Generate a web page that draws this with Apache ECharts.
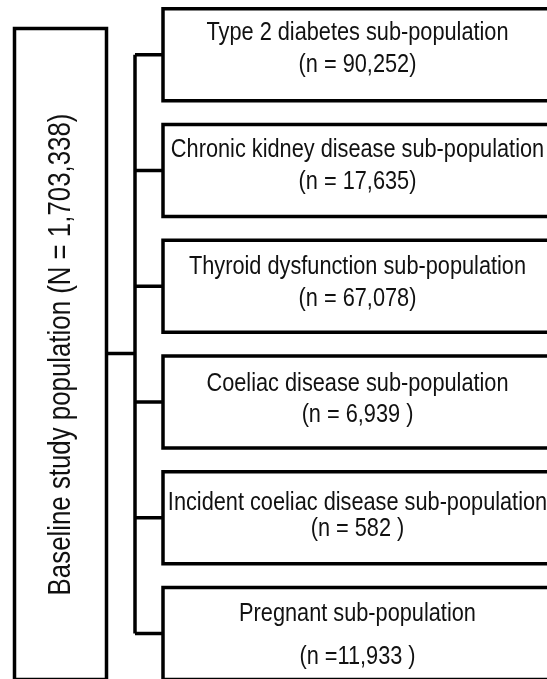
<!DOCTYPE html>
<html>
<head>
<meta charset="utf-8">
<script src="https://cdn.jsdelivr.net/npm/echarts@6/dist/echarts.min.js"></script>
<style>
html,body{margin:0;padding:0;background:#fff;}
#chart{width:547px;height:679px;}
</style>
</head>
<body>
<div id="chart"></div>
<script>
// ---- data ----
const mainLabel = 'Baseline study population (N = 1,703,338)';
const categories = [
  'Type 2 diabetes sub-population',
  'Chronic kidney disease sub-population',
  'Thyroid dysfunction sub-population',
  'Coeliac disease sub-population',
  'Incident coeliac disease sub-population',
  'Pregnant sub-population'
];
const counts = [90252, 17635, 67078, 6939, 582, 11933];
const countLabels = ['(n = 90,252)', '(n = 17,635)', '(n = 67,078)', '(n = 6,939 )', '(n = 582 )', '(n =11,933 )'];

// ---- chart ----
const FONT = '"Liberation Sans", Arial, sans-serif';
const SX = 0.82; // narrow face
const chart = echarts.init(document.getElementById('chart'), null, {renderer: 'canvas'});

const LW = 3.5;
const TRUNK_X = 135, BOX_X = 163, BOX_R = 552;
const LEFT_X0 = 14.5, LEFT_X1 = 106.5, LEFT_Y0 = 28.5, LEFT_Y1 = 679.5;
// text line offsets inside each box (px from box centre)
const LINE_OFF = [[-22, 9.5], [-21, 11], [-20, 12], [-18.5, 13], [-15, 11], [-20, 23]];

function renderBox(params, api) {
  const i = params.dataIndex;
  const c = api.coord([BOX_X, i]);
  const cy = c[1];
  const band = Math.abs(api.size([0, 1])[1]);
  const h = band * 0.795;
  const x0 = c[0];
  const x1 = api.coord([BOX_R, i])[0];
  const xt = api.coord([TRUNK_X, i])[0];
  const xm = (x0 + x1) / 2;
  const off = LINE_OFF[i];
  return {
    type: 'group',
    children: [
      {type: 'line', shape: {x1: xt, y1: cy, x2: x0, y2: cy}, style: {stroke: '#000', lineWidth: LW}},
      {type: 'rect', shape: {x: x0, y: cy - h / 2, width: x1 - x0, height: h},
        style: {fill: '#fff', stroke: '#000', lineWidth: LW}},
      {type: 'text', x: xm, y: cy + off[0], scaleX: SX, style: {text: categories[i], font: '26.5px ' + FONT,
        fill: '#111', align: 'center', verticalAlign: 'middle'}},
      {type: 'text', x: xm, y: cy + off[1], scaleX: SX, style: {text: countLabels[i], font: '26.5px ' + FONT,
        fill: '#111', align: 'center', verticalAlign: 'middle'}}
    ]
  };
}

function renderMain(params, api) {
  const top = api.coord([TRUNK_X, 0]);
  const bot = api.coord([TRUNK_X, categories.length - 1]);
  const lx0 = api.coord([LEFT_X0, 0])[0];
  const lx1 = api.coord([LEFT_X1, 0])[0];
  const midY = (LEFT_Y0 + LEFT_Y1) / 2 - 0.5;
  return {
    type: 'group',
    children: [
      {type: 'line', shape: {x1: top[0], y1: top[1], x2: bot[0], y2: bot[1]}, style: {stroke: '#000', lineWidth: LW}},
      {type: 'line', shape: {x1: lx1, y1: midY, x2: top[0], y2: midY}, style: {stroke: '#000', lineWidth: LW}},
      {type: 'rect', shape: {x: lx0, y: LEFT_Y0, width: lx1 - lx0, height: LEFT_Y1 - LEFT_Y0},
        style: {fill: '#fff', stroke: '#000', lineWidth: LW}},
      {type: 'text', x: (lx0 + lx1) / 2 + 0.5, y: midY + 1, rotation: Math.PI / 2, scaleX: SX,
        style: {text: mainLabel, font: '31.5px ' + FONT, fill: '#111', align: 'center', verticalAlign: 'middle'}}
    ]
  };
}

// y axis: index of sub-population, 115.75 px per step, first centre at 54.75 px
const PITCH = 115.75, FIRST = 54.75, H = 679;
const yMin = -FIRST / PITCH;
const yMax = yMin + H / PITCH;

chart.setOption({
  animation: false,
  backgroundColor: '#fff',
  grid: {left: 0, top: 0, right: 0, bottom: 0},
  xAxis: {type: 'value', min: 0, max: 547, show: false},
  yAxis: {type: 'value', min: yMin, max: yMax, inverse: true, show: false},
  series: [
    {type: 'custom', renderItem: renderMain, data: [[0, 0]], clip: false, silent: true},
    {type: 'custom', renderItem: renderBox, clip: false, silent: true,
      data: categories.map((c, i) => [BOX_X, i, counts[i]]),
      encode: {x: 0, y: 1}}
  ]
});
</script>
</body>
</html>
